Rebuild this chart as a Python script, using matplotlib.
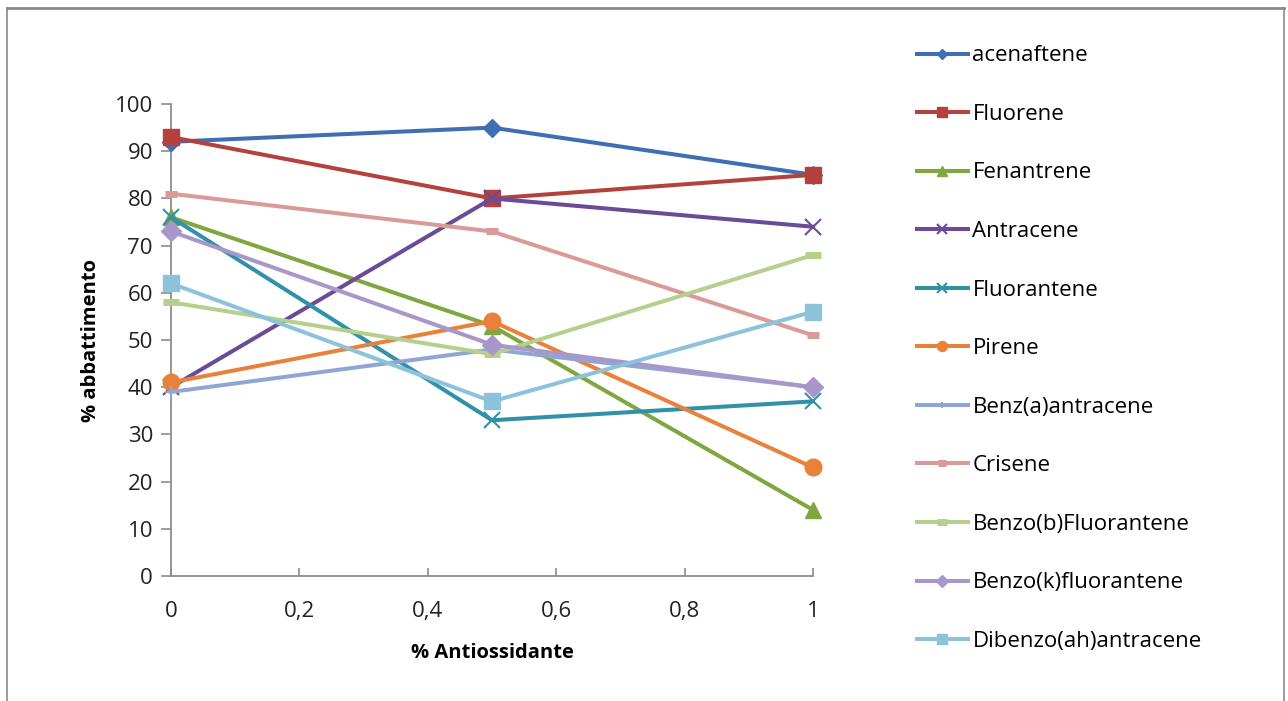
import matplotlib.pyplot as plt
from matplotlib.lines import Line2D
from matplotlib.ticker import FuncFormatter

plt.rcParams['font.family'] = ['Open Sans', 'DejaVu Sans']

# dati
antiossidante = [0, 0.5, 1]
nomi = ['acenaftene', 'Fluorene', 'Fenantrene', 'Antracene', 'Fluorantene',
        'Pirene', 'Benz(a)antracene', 'Crisene', 'Benzo(b)Fluorantene',
        'Benzo(k)fluorantene', 'Dibenzo(ah)antracene']
acenaftene = [92, 95, 85]
fluorene = [93, 80, 85]
fenantrene = [76, 53, 14]
antracene = [40, 80, 74]
fluorantene = [76, 33, 37]
pirene = [41, 54, 23]
benz_a_antracene = [39, 48, 40]
crisene = [81, 73, 51]
benzo_b_fluorantene = [58, 47, 68]
benzo_k_fluorantene = [73, 49, 40]
dibenzo_ah_antracene = [62, 37, 56]

valori = [acenaftene, fluorene, fenantrene, antracene, fluorantene, pirene,
          benz_a_antracene, crisene, benzo_b_fluorantene, benzo_k_fluorantene,
          dibenzo_ah_antracene]

colori = ['#3F6FB2', '#B5413E', '#7FA63F', '#6A4B97', '#3091A9', '#E8823A',
          '#8FA6D4', '#D99A98', '#B4D08C', '#A897C8', '#8DC3DA']
marker = ['D', 's', '^', 'x', 'x', 'o', '+', '_', '_', 'D', 's']
msize = [9, 11, 11, 11, 11, 12, 8, 9, 12, 10, 12]

fig = plt.figure(figsize=(12.88, 7.01), dpi=100)
ax = fig.add_axes([0.1328, 0.1783, 0.4984, 0.6733])

for i in range(len(nomi)):
    mew = 1.5 if marker[i] in ['x', '+', '_'] else 1
    if marker[i] == '_':
        mew = 5
    ax.plot(antiossidante, valori[i], color=colori[i], lw=2.9,
            marker=marker[i], markersize=msize[i], markeredgewidth=mew,
            label=nomi[i], clip_on=False, zorder=3)

ax.set_xlim(0, 1)
ax.set_ylim(0, 100)
ax.set_xticks([0, 0.2, 0.4, 0.6, 0.8, 1])
ax.set_yticks(range(0, 101, 10))
ax.xaxis.set_major_formatter(FuncFormatter(lambda v, p: ('%g' % v).replace('.', ',')))

for s in ['top', 'right']:
    ax.spines[s].set_visible(False)
for s in ['left', 'bottom']:
    ax.spines[s].set_color('#8c8c8c')
    ax.spines[s].set_linewidth(1.3)
ax.tick_params(axis='y', direction='out', length=7, width=1.2, color='#8c8c8c',
               labelsize=16, pad=6, labelcolor='#222222')
ax.tick_params(axis='x', direction='in', length=6, width=1.2, color='#8c8c8c',
               labelsize=16, pad=18, labelcolor='#222222')

ax.set_xlabel('% Antiossidante', fontsize=14.5, fontweight='bold', labelpad=15)
ax.set_ylabel('% abbattimento', fontsize=14.5, fontweight='bold', labelpad=10)

fig.legend(loc='upper left', bbox_to_anchor=(0.705, 0.948), frameon=False,
           fontsize=16, labelspacing=1.69, handlelength=2.3, markerscale=0.6,
           handletextpad=0.2, borderaxespad=0)

# cornice grigia dell'area grafico
bordo = dict(color='#8a8a8a', lw=2, transform=fig.transFigure)
fig.add_artist(Line2D([0.0055, 0.997], [0.988, 0.988], **bordo))
fig.add_artist(Line2D([0.0055, 0.0055], [0.0, 0.988], lw=1.2, color='#8a8a8a', transform=fig.transFigure))
fig.add_artist(Line2D([0.997, 0.997], [0.0, 0.988], lw=1.2, color='#8a8a8a', transform=fig.transFigure))

fig.savefig('out.png', dpi=100)
